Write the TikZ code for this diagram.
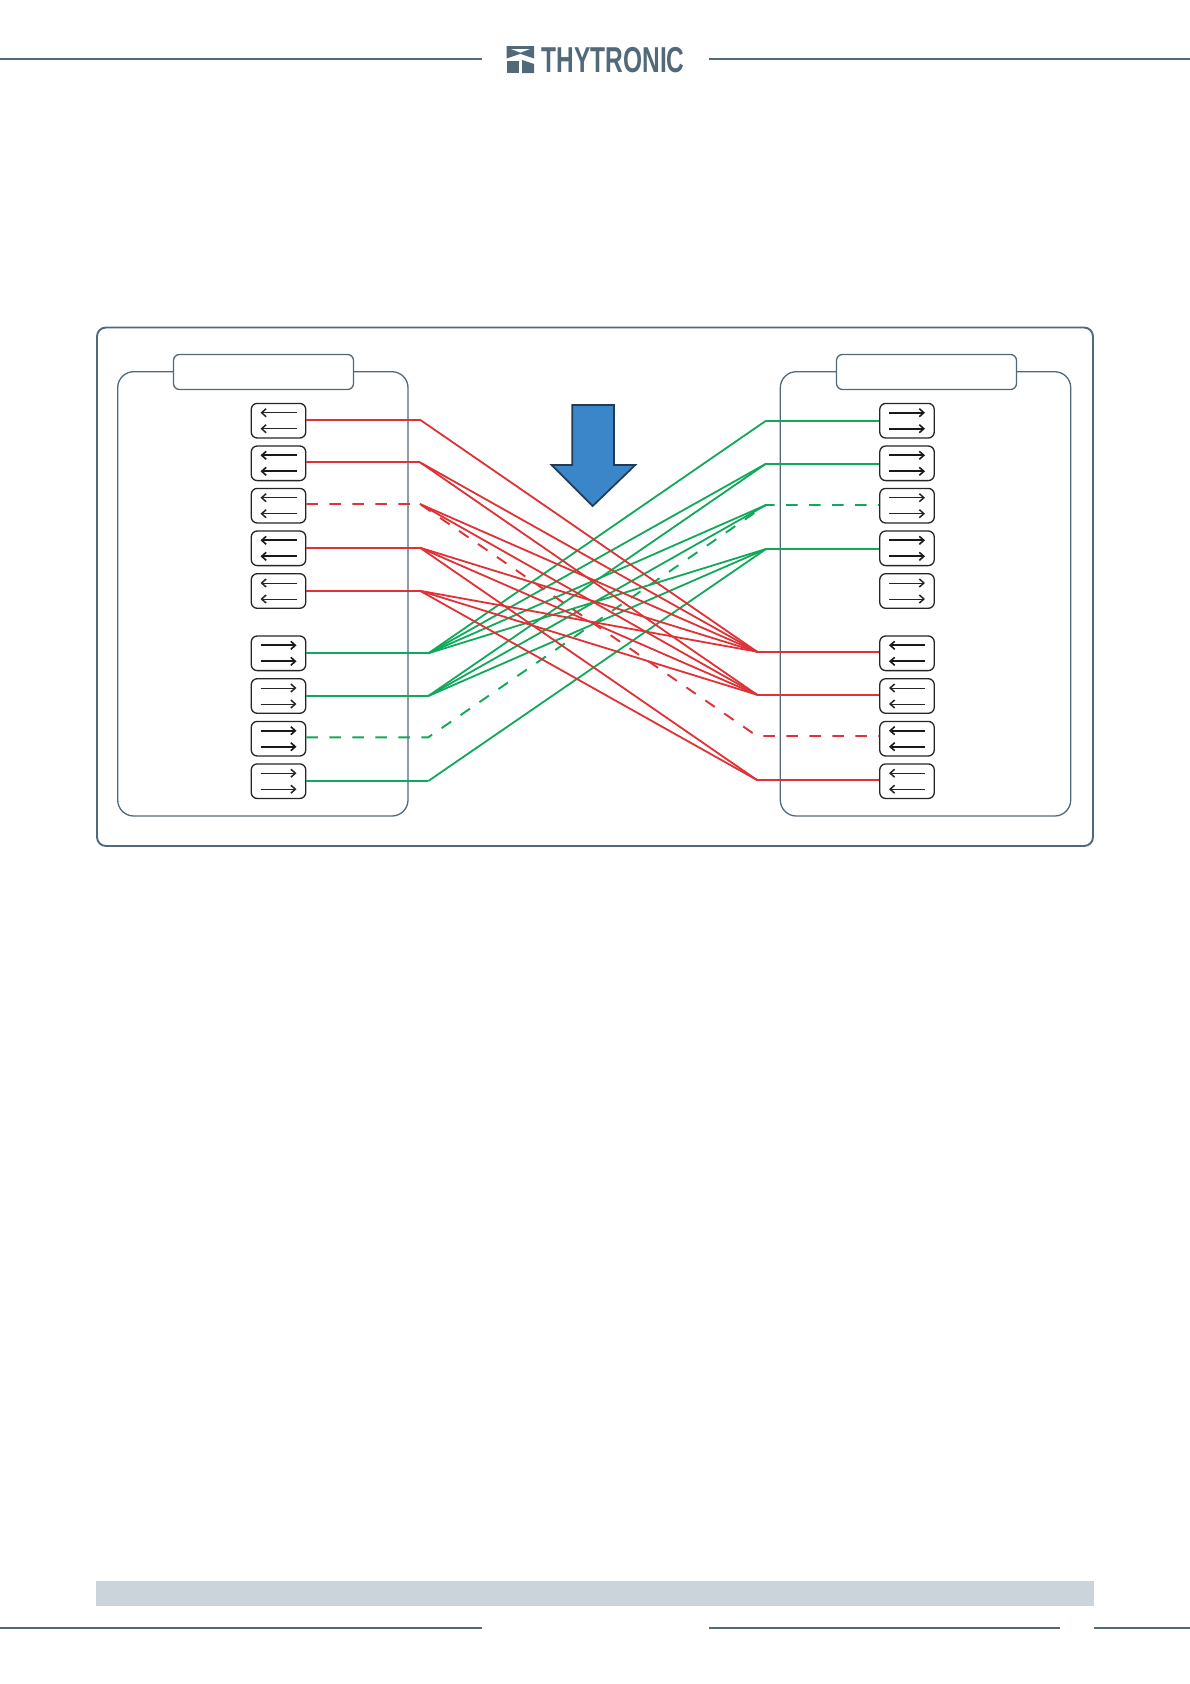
\documentclass[tikz,border=0pt]{standalone}
\usepackage{fontspec}
\setmainfont{Liberation Sans}
\usetikzlibrary{arrows.meta}
\definecolor{slate}{HTML}{52697A}
\definecolor{band}{HTML}{CBD4DB}
\definecolor{linkred}{HTML}{E03136}
\definecolor{linkgreen}{HTML}{10A85A}
\definecolor{arrowblue}{HTML}{3A86C8}
\definecolor{arrowedge}{HTML}{233A55}
\tikzset{
  x=1pt,y=-1pt,
  rule/.style={draw=slate,line width=2pt},
  panel/.style={draw=slate,line width=1.3pt,rounded corners=16pt},
  frame/.style={draw=slate,line width=1.9pt,rounded corners=9pt},
  tabbox/.style={draw=slate,line width=1.3pt,fill=white,rounded corners=6pt,minimum width=180pt,minimum height=35pt,inner sep=0pt},
  signalbox/.style={draw=black!85,line width=1.3pt,fill=white,rounded corners=6pt,minimum width=54.5pt,minimum height=34.6pt,inner sep=0pt},
  thinarrow/.style={draw=black!85,line width=.85pt,-{Straight Barb[length=4.5pt,width=8pt,line width=1.5pt]}},
  thickarrow/.style={draw=black!90,line width=2pt,-{Straight Barb[length=4.5pt,width=8pt,line width=1.6pt]}},
  redlink/.style={draw=linkred,line width=1.8pt},
  greenlink/.style={draw=linkgreen,line width=1.8pt},
  redstub/.style={draw=linkred,line width=2.2pt},
  greenstub/.style={draw=linkgreen,line width=2.2pt},
  dashpat/.style={line width=1.9pt,dash pattern=on 11.5pt off 11.5pt}
}
% name, cx, cy, style, direction (+1 right, -1 left)
\newcommand{\sigbox}[5]{%
  \node[signalbox] (#1) at (#2,#3) {};
  \draw[#4] (#2-18*#5,#3-8) -- (#2+18*#5,#3-8);
  \draw[#4] (#2-18*#5,#3+8) -- (#2+18*#5,#3+8);
}
\begin{document}
\begin{tikzpicture}
\useasboundingbox (0,0) rectangle (1190,1684);
\fill[white] (0,0) rectangle (1190,1684);
% page furniture
\draw[rule] (0,58.8) -- (482,58.8);
\draw[rule] (709,58.8) -- (1190,58.8);
\fill[band] (95.6,1581) rectangle (1094.4,1605.7);
\draw[rule] (0,1627.7) -- (482,1627.7);
\draw[rule] (709,1627.7) -- (1060,1627.7);
\draw[rule] (1094.4,1627.7) -- (1190,1627.7);
% logo
\fill[slate] (506.7,46) -- (534,46) -- (534,58.5) -- (520.3,53.8) -- (506.7,58.5) -- cycle;
\fill[white] (511,49) -- (530,49) -- (520.3,52.6) -- cycle;
\fill[slate] (506.7,60.5) rectangle (518.5,73);
\fill[slate] (522,60) -- (534,64) -- (534,73) -- (522,73) -- cycle;
\node[anchor=base west,inner sep=0pt,text=slate,font=\bfseries\fontsize{36}{36}\selectfont] (logotext) at (541.5,72.6) {\scalebox{0.68}[1]{THYTRONIC}};
% frames
\draw[frame] (97,327.5) rectangle (1093,846);
\draw[panel] (117.7,371.7) rectangle (408,816);
\draw[panel] (780.3,371.7) rectangle (1070.7,816);
\node[tabbox] (tabL) at (263.5,372) {};
\node[tabbox] (tabR) at (926.5,372) {};
% knees
\coordinate (lr1) at (420,419.7);
\coordinate (lr2) at (420,462.3);
\coordinate (lr3) at (420,504);
\coordinate (lr4) at (420,547.7);
\coordinate (lr5) at (420,590.8);
\coordinate (lg1) at (428.3,653.3);
\coordinate (lg2) at (428.3,696);
\coordinate (lg3) at (428.3,737.3);
\coordinate (lg4) at (428.3,781);
\coordinate (rg1) at (766,420.7);
\coordinate (rg2) at (766,463.7);
\coordinate (rg3) at (766,505);
\coordinate (rg4) at (766,549);
\coordinate (rr1) at (757,651.7);
\coordinate (rr2) at (757,694.7);
\coordinate (rr3) at (757,736);
\coordinate (rr4) at (757,780);
% boxes
\sigbox{bl1}{278.5}{420.7}{thinarrow}{-1}
\sigbox{bl2}{278.5}{463.3}{thickarrow}{-1}
\sigbox{bl3}{278.5}{505.7}{thinarrow}{-1}
\sigbox{bl4}{278.5}{548.3}{thickarrow}{-1}
\sigbox{bl5}{278.5}{591}{thinarrow}{-1}
\sigbox{bl6}{278.5}{653.3}{thickarrow}{1}
\sigbox{bl7}{278.5}{696}{thinarrow}{1}
\sigbox{bl8}{278.5}{738.7}{thickarrow}{1}
\sigbox{bl9}{278.5}{781.2}{thinarrow}{1}
\sigbox{br1}{907}{420.7}{thickarrow}{1}
\sigbox{br2}{907}{463.3}{thickarrow}{1}
\sigbox{br3}{907}{505.7}{thinarrow}{1}
\sigbox{br4}{907}{548.3}{thickarrow}{1}
\sigbox{br5}{907}{591}{thinarrow}{1}
\sigbox{br6}{907}{653.3}{thickarrow}{-1}
\sigbox{br7}{907}{696}{thinarrow}{-1}
\sigbox{br8}{907}{738.7}{thickarrow}{-1}
\sigbox{br9}{907}{781.2}{thinarrow}{-1}
% green
\draw[greenstub] (bl6.east |- lg1) -- (lg1);
\draw[greenstub] (bl7.east |- lg2) -- (lg2);
\draw[greenstub] (bl9.east |- lg4) -- (lg4);
\draw[greenstub] (rg1) -- (rg1 -| br1.west);
\draw[greenstub] (rg2) -- (rg2 -| br2.west);
\draw[greenstub] (rg4) -- (rg4 -| br4.west);
\draw[greenlink] (lg1) -- (rg1);
\draw[greenlink] (lg1) -- (rg2);
\draw[greenlink] (lg2) -- (rg2);
\draw[greenlink] (lg1) -- (rg3);
\draw[greenlink] (lg2) -- (rg3);
\draw[greenlink] (lg1) -- (rg4);
\draw[greenlink] (lg2) -- (rg4);
\draw[greenlink] (lg4) -- (rg4);
\draw[greenlink,dashpat] (bl8.east |- lg3) -- (lg3) -- (rg3) -- (rg3 -| br3.west);
% red
\draw[redstub] (bl1.east |- lr1) -- (lr1);
\draw[redstub] (bl2.east |- lr2) -- (lr2);
\draw[redstub] (bl4.east |- lr4) -- (lr4);
\draw[redstub] (bl5.east |- lr5) -- (lr5);
\draw[redstub] (rr1) -- (rr1 -| br6.west);
\draw[redstub] (rr2) -- (rr2 -| br7.west);
\draw[redstub] (rr4) -- (rr4 -| br9.west);
\draw[redlink] (lr1) -- (rr1);
\draw[redlink] (lr2) -- (rr1);
\draw[redlink] (lr2) -- (rr2);
\draw[redlink] (lr3) -- (rr1);
\draw[redlink] (lr3) -- (rr2);
\draw[redlink] (lr4) -- (rr1);
\draw[redlink] (lr4) -- (rr2);
\draw[redlink] (lr4) -- (rr4);
\draw[redlink] (lr5) -- (rr1);
\draw[redlink] (lr5) -- (rr2);
\draw[redlink] (lr5) -- (rr4);
\draw[redlink,dashpat] (bl3.east |- lr3) -- (lr3) -- (rr3) -- (rr3 -| br8.west);
% block arrow
\draw[fill=arrowblue,draw=arrowedge,line width=1.7pt,line join=miter] (572.3,405) -- (614,405) -- (614,465) -- (635.3,465) -- (592.7,506) -- (551.7,465) -- (572.3,465) -- cycle;
\end{tikzpicture}
\end{document}
